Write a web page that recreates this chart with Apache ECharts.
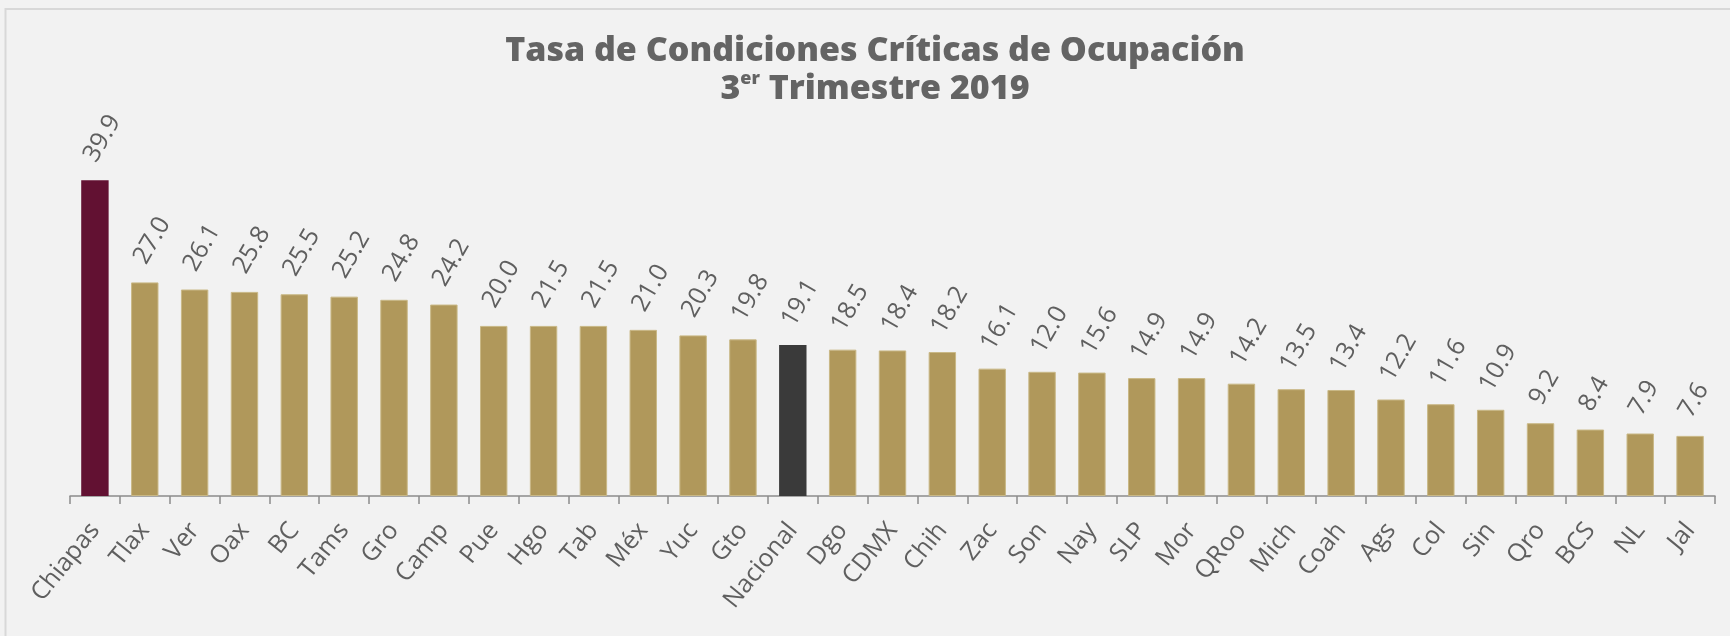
<!DOCTYPE html>
<html>
<head>
<meta charset="utf-8">
<script src="https://cdn.jsdelivr.net/npm/echarts@6/dist/echarts.min.js"></script>
<style>
html,body{margin:0;padding:0;background:#f2f2f2;}
#chart{width:1730px;height:636px;}
</style>
</head>
<body>
<div id="chart"></div>
<script>
// ---- data ----
const categories = ['Chiapas','Tlax','Ver','Oax','BC','Tams','Gro','Camp','Pue','Hgo','Tab','Méx','Yuc','Gto','Nacional','Dgo','CDMX','Chih','Zac','Son','Nay','SLP','Mor','QRoo','Mich','Coah','Ags','Col','Sin','Qro','BCS','NL','Jal'];
// bar heights as drawn in the reference
const barValues = [39.9,27.0,26.1,25.8,25.5,25.2,24.8,24.2,21.5,21.5,21.5,21.0,20.3,19.8,19.1,18.5,18.4,18.2,16.1,15.7,15.6,14.9,14.9,14.2,13.5,13.4,12.2,11.6,10.9,9.2,8.4,7.9,7.6];
// value labels as printed in the reference
const labelTexts = ['39.9','27.0','26.1','25.8','25.5','25.2','24.8','24.2','20.0','21.5','21.5','21.0','20.3','19.8','19.1','18.5','18.4','18.2','16.1','12.0','15.6','14.9','14.9','14.2','13.5','13.4','12.2','11.6','10.9','9.2','8.4','7.9','7.6'];
const titleLine1 = 'Tasa de Condiciones Críticas de Ocupación';
const titleLine2a = '3';
const titleSup = 'er';
const titleLine2b = ' Trimestre 2019';

// ---- styles ----
const GOLD = '#b0985b';
const special = { 'Chiapas': '#621132', 'Nacional': '#3a3a3a' };
const TEXT = '#5f5f5f';
const LABEL_FONT = 'Open Sans';

const chart = echarts.init(document.getElementById('chart'), null, { renderer: 'canvas' });

const seriesData = categories.map((c, i) => ({
  value: barValues[i],
  itemStyle: special[c]
    ? { color: special[c] }
    : { color: GOLD, borderColor: '#c9b886', borderWidth: 1 }
}));

chart.setOption({
  backgroundColor: '#f2f2f2',
  animation: false,
  title: {
    text: '{t|' + titleLine1 + '}\n{t|' + titleLine2a + '}{s|' + titleSup + '}{t|' + titleLine2b + '}',
    left: 875,
    textAlign: 'center',
    top: 32,
    padding: 0,
    textStyle: {
      rich: {
        t: { fontFamily: 'Open Sans', fontWeight: 800, fontSize: 34, color: '#646464', lineHeight: 38 },
        s: { fontFamily: 'Open Sans', fontWeight: 800, fontSize: 18, color: '#646464', lineHeight: 24, verticalAlign: 'top' }
      }
    }
  },
  graphic: [{
    type: 'rect',
    shape: { x: 5.5, y: 9, width: 1800, height: 800 },
    style: { fill: 'none', stroke: '#d8d8d8', lineWidth: 2 },
    silent: true
  }],
  grid: { left: 70, right: 15, top: 140, bottom: 140, containLabel: false },
  xAxis: {
    type: 'category',
    data: categories,
    axisLine: { show: true, lineStyle: { color: '#8c8c8c', width: 1.5 } },
    axisTick: { show: true, length: 8, lineStyle: { color: '#8c8c8c', width: 1.5 } },
    axisLabel: {
      interval: 0,
      rotate: 51,
      margin: 30,
      fontFamily: LABEL_FONT,
      fontSize: 25,
      color: TEXT
    }
  },
  yAxis: {
    type: 'value',
    min: 0,
    max: 45,
    show: false,
    splitLine: { show: false }
  },
  series: [{
    type: 'bar',
    data: seriesData,
    barCategoryGap: '45%',
    label: {
      show: true,
      position: 'top',
      distance: 29,
      rotate: 60,
      align: 'left',
      verticalAlign: 'middle',
      offset: [-10, 0],
      fontFamily: LABEL_FONT,
      fontSize: 25,
      color: TEXT,
      formatter: p => labelTexts[p.dataIndex]
    }
  }]
});
</script>
</body>
</html>
